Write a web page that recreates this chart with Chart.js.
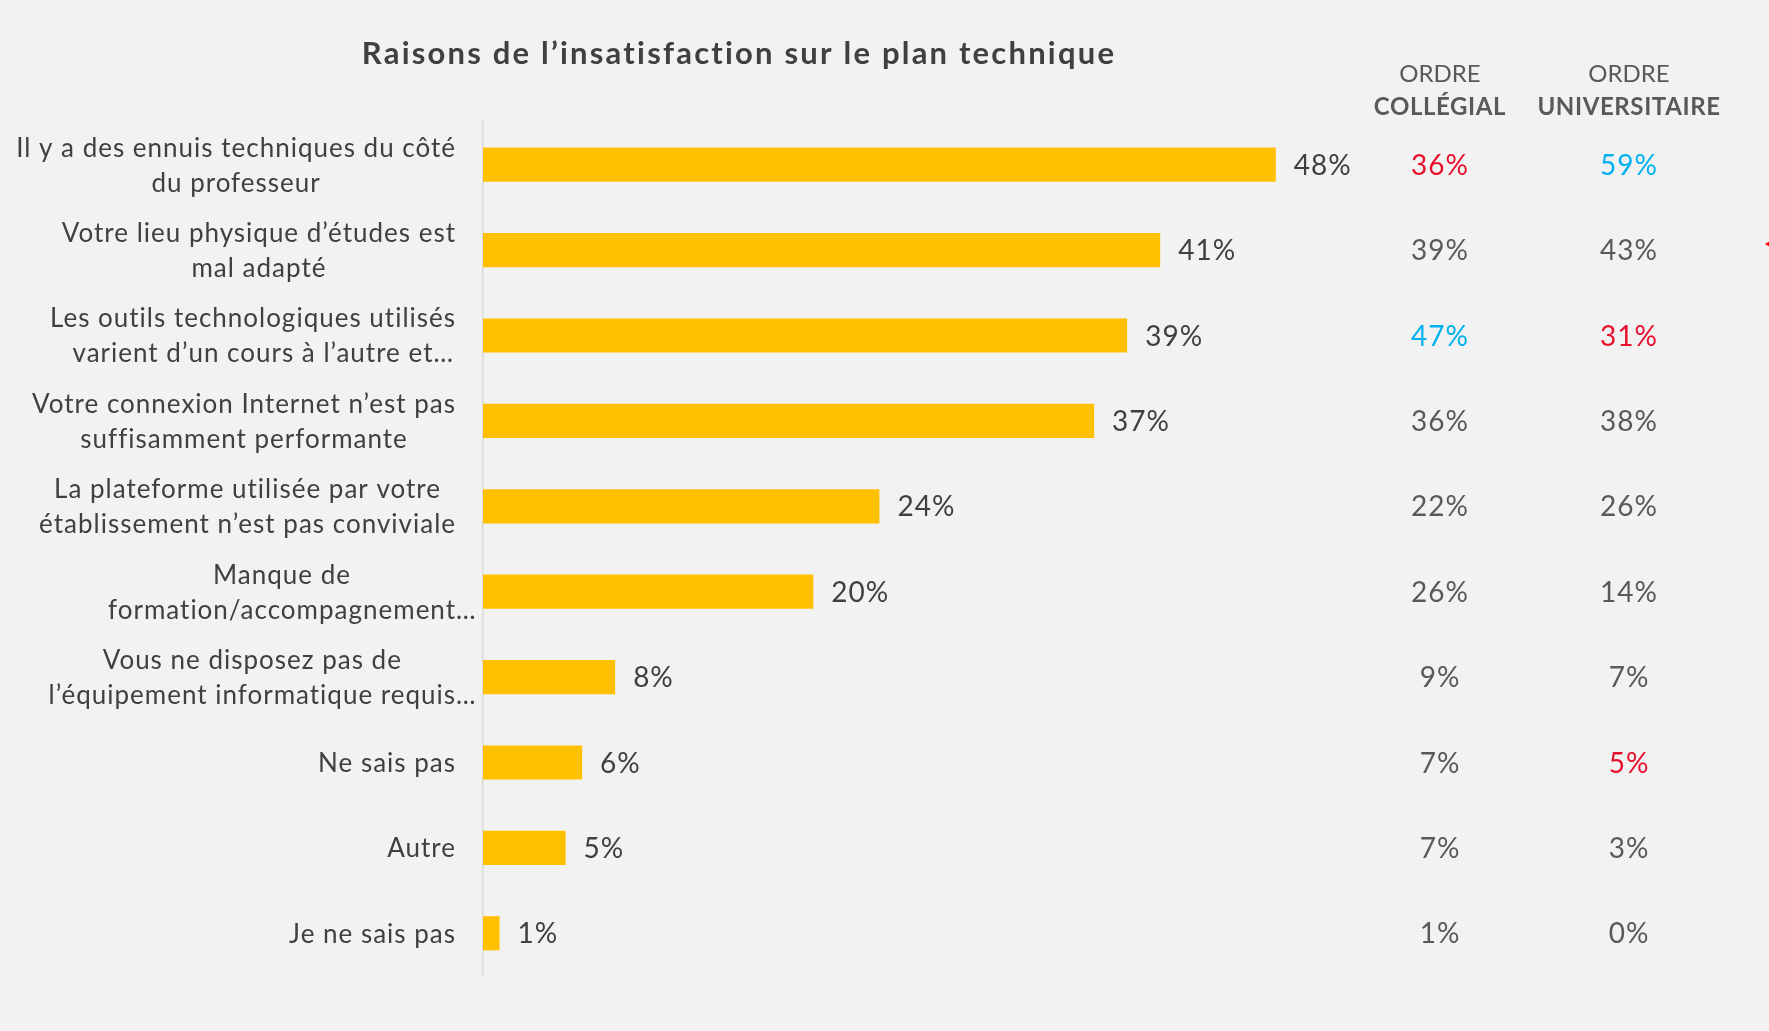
<!DOCTYPE html>
<html>
<head>
<meta charset="utf-8">
<script src="https://cdn.jsdelivr.net/npm/chart.js@4"></script>
<style>
  html, body { margin: 0; padding: 0; background: #F2F2F2; }
  #wrap { width: 1769px; height: 1031px; }
</style>
</head>
<body>
<div id="wrap"><canvas id="c" width="1769" height="1031"></canvas></div>
<script>
const title = "Raisons de l’insatisfaction sur le plan technique";
const categories = [
  ["Il y a des ennuis techniques du côté", "du professeur"],
  ["Votre lieu physique d’études est", "mal adapté"],
  ["Les outils technologiques utilisés", "varient d’un cours à l’autre et…"],
  ["Votre connexion Internet n’est pas", "suffisamment performante"],
  ["La plateforme utilisée par votre", "établissement n’est pas conviviale"],
  ["Manque de", "formation/accompagnement…"],
  ["Vous ne disposez pas de", "l’équipement informatique requis…"],
  "Ne sais pas",
  "Autre",
  "Je ne sais pas"
];
const totalValues = [48, 41, 39, 37, 24, 20, 8, 6, 5, 1];
const collegialValues = [36, 39, 47, 36, 22, 26, 9, 7, 7, 1];
const universitaireValues = [59, 43, 31, 38, 26, 14, 7, 5, 3, 0];
// significance vs total: "+" higher, "-" lower, "" none
const collegialSig = ["-", "", "+", "", "", "", "", "", "", ""];
const universitaireSig = ["+", "", "-", "", "", "", "", "-", "", ""];
const columnHeaders = [["ORDRE", "COLLÉGIAL"], ["ORDRE", "UNIVERSITAIRE"]];

const FONT = "Lato, 'Open Sans', sans-serif";
const TEXT = "#404040";
const GRAY = "#595959";
const sigColor = s => s === "+" ? "#00B0F0" : (s === "-" ? "#E8112D" : GRAY);

const overlay = {
  id: "overlay",
  afterDraw(chart) {
    const { ctx, chartArea, scales } = chart;
    const xs = scales.x, ys = scales.y;
    ctx.save();
    // title
    ctx.fillStyle = TEXT;
    ctx.font = "bold 31px " + FONT;
    ctx.letterSpacing = "2.2px";
    ctx.textAlign = "center";
    ctx.textBaseline = "middle";
    ctx.fillText(title, 739, 54);

    // column headers
    const colX = [1440, 1629];
    columnHeaders.forEach((h, k) => {
      ctx.fillStyle = GRAY;
      ctx.font = "24px " + FONT;
      ctx.letterSpacing = "0px";
      ctx.fillText(h[0], colX[k], 74);
      ctx.font = "bold 24px " + FONT;
      ctx.letterSpacing = "0.6px";
      ctx.fillText(h[1], colX[k], 107);
    });

    // category labels
    ctx.font = "26px " + FONT;
    ctx.letterSpacing = "1px";
    ctx.fillStyle = TEXT;
    ctx.textAlign = "left";
    const R = chartArea.left - 27;
    const core = s => s.replace(/…$/, "");
    const lh = 35;
    categories.forEach((lab, i) => {
      const lines = Array.isArray(lab) ? lab : [lab];
      const cy = ys.getPixelForValue(i);
      const bw = Math.max(...lines.map(l => ctx.measureText(core(l)).width));
      const cx = R - bw / 2;
      lines.forEach((l, j) => {
        const ly = cy + (j - (lines.length - 1) / 2) * lh;
        const w0 = ctx.measureText(core(l)).width;
        ctx.fillText(l, cx - w0 / 2, ly + 1);
      });
    });

    // bar value labels
    ctx.font = "28px " + FONT;
    ctx.letterSpacing = "1px";
    ctx.fillStyle = TEXT;
    totalValues.forEach((v, i) => {
      ctx.textAlign = "left";
      ctx.fillText(v + "%", xs.getPixelForValue(v) + 18, ys.getPixelForValue(i) + 1);
    });

    // column values
    ctx.textAlign = "center";
    collegialValues.forEach((v, i) => {
      ctx.fillStyle = sigColor(collegialSig[i]);
      ctx.fillText(v + "%", colX[0], ys.getPixelForValue(i) + 1);
    });
    universitaireValues.forEach((v, i) => {
      ctx.fillStyle = sigColor(universitaireSig[i]);
      ctx.fillText(v + "%", colX[1], ys.getPixelForValue(i) + 1);
    });

    // small red marker clipped at the right edge
    ctx.fillStyle = "#FF0000";
    ctx.beginPath();
    const my = ys.getPixelForValue(1) - 6;
    ctx.moveTo(1765, my);
    ctx.lineTo(1772, my - 4);
    ctx.lineTo(1772, my + 4);
    ctx.closePath();
    ctx.fill();
    ctx.restore();
  }
};

function build() {
  new Chart(document.getElementById("c"), {
    type: "bar",
    data: {
      labels: categories,
      datasets: [{
        data: totalValues,
        backgroundColor: "#FFC000",
        borderWidth: 0,
        barPercentage: 0.4,
        categoryPercentage: 1.0
      }]
    },
    options: {
      indexAxis: "y",
      responsive: false,
      animation: false,
      layout: { padding: { left: 483, right: 295, top: 122, bottom: 55 } },
      plugins: { legend: { display: false }, tooltip: { enabled: false }, title: { display: false } },
      scales: {
        x: { display: false, min: 0, max: 60 },
        y: {
          display: true,
          ticks: { display: false },
          grid: { display: false, drawTicks: false },
          border: { display: true, color: "#D9D9D9", width: 1.5 },
          afterFit(scale) { scale.width = 0; }
        }
      }
    },
    plugins: [overlay]
  });
}
if (document.fonts && document.fonts.load) {
  Promise.all([document.fonts.load("25px Lato"), document.fonts.load("bold 25px Lato")]).then(build, build);
} else { build(); }
</script>
</body>
</html>
